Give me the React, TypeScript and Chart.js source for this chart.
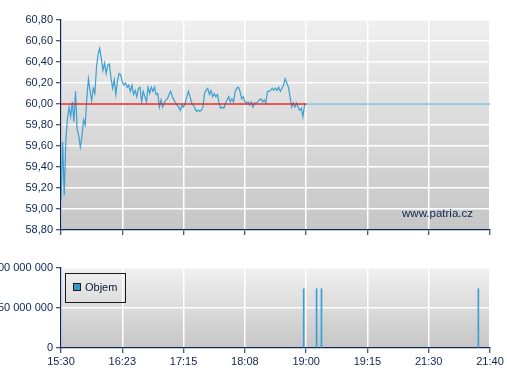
import React, { useEffect, useRef } from 'react';
import { Chart, registerables } from 'chart.js';

Chart.register(...registerables);

// ---- data ----
const xTickLabels = ['15:30', '16:23', '17:15', '18:08', '19:00', '19:15', '21:30', '21:40'];
const xTickSlots = [0, 1, 2, 3, 4, 5, 6, 7];
const priceTicks = [58.8, 59.0, 59.2, 59.4, 59.6, 59.8, 60.0, 60.2, 60.4, 60.6, 60.8];
const volumeTicks = [0, 50000000, 100000000];
const previousClose = 60.0;
const sessionEndSlot = 4.0; // end of continuous trading on the time axis (tick slots)
const afterHoursPrice = 60.0;
const afterHoursEndSlot = 7;

const priceValues = [
  59.08, 59.64, 59.13, 59.65, 59.86, 59.97, 59.88, 60.02, 59.83, 60.12, 59.76, 59.70, 59.59, 59.69, 59.85,
  59.80, 60.05, 60.24, 60.13, 60.03, 60.15, 60.10, 60.35, 60.47, 60.53, 60.43, 60.32, 60.39, 60.29, 60.37,
  60.38, 60.25, 60.15, 60.23, 60.09, 60.22, 60.29, 60.28, 60.21, 60.18, 60.20, 60.16, 60.18,
  60.12, 60.18, 60.09, 60.13, 60.07, 60.15, 60.16, 60.02, 60.12, 60.07, 60.02, 60.16, 60.10, 60.16, 60.12,
  60.16, 60.09, 60.10, 59.97, 60.04, 59.97, 60.01, 60.04, 60.05, 60.09, 60.12, 60.07, 60.04, 60.01, 59.99,
  59.97, 59.94, 59.99, 59.97, 60.01, 60.07, 60.12,
  60.07, 60.01, 59.99, 59.96, 59.93, 59.94, 59.93, 59.94, 59.97, 60.10, 60.13, 60.15, 60.09, 60.13, 60.07,
  60.10, 60.07, 60.09, 60.01, 59.96, 59.97, 59.96, 60.01, 60.04, 60.07, 60.02, 60.05, 60.02, 60.12, 60.15,
  60.16, 60.12, 60.05, 60.07, 60.02,
  60.01, 60.02, 59.99, 60.02, 59.97, 60.01, 60.01, 60.02, 60.04, 60.05, 60.02, 60.04, 60.01, 60.12, 60.12,
  60.13, 60.15, 60.13, 60.15, 60.13, 60.16, 60.12, 60.15, 60.18, 60.24, 60.20, 60.16, 60.07, 59.97, 60.01,
  59.97, 60.01, 59.97, 59.94, 59.96, 59.88, 59.99, 60.00,
];

const volumeSlots = [3.96, 4.17, 4.25, 6.81];
const volumeValues = [74000000, 74000000, 74000000, 74000000];

// ---- styles ----
const FONT = '"Liberation Sans", Arial, sans-serif';
const NAVY = '#0d2654';
const BLUE = '#3a9fd2';
const RED = '#e02424';

function fmtPrice(v: number) {
  return v.toFixed(2).replace('.', ',');
}
function fmtVolume(v: number) {
  return Math.round(v).toString().replace(/\B(?=(\d{3})+(?!\d))/g, ' ');
}

const gradientBg = (top: string, bottom: string) => ({
  id: 'gradientBg',
  beforeDraw(chart: any) {
    const { ctx, chartArea: a } = chart;
    if (!a) return;
    const g = ctx.createLinearGradient(0, a.top, 0, a.bottom);
    g.addColorStop(0, top);
    g.addColorStop(1, bottom);
    ctx.save();
    ctx.fillStyle = g;
    ctx.fillRect(a.left, a.top, a.right - a.left, a.bottom - a.top);
    ctx.restore();
  },
});

const watermark = {
  id: 'watermark',
  afterDatasetsDraw(chart: any) {
    const { ctx, chartArea: a } = chart;
    ctx.save();
    ctx.font = `11.5px ${FONT}`;
    ctx.fillStyle = NAVY;
    ctx.textAlign = 'right';
    ctx.textBaseline = 'middle';
    ctx.fillText('www.patria.cz', a.right - 17, a.bottom - 16.5);
    ctx.restore();
  },
};

const volumeLegend = {
  id: 'volumeLegend',
  afterDraw(chart: any) {
    const { ctx, chartArea: a } = chart;
    const x0 = Math.round(a.left) + 4.5;
    const y0 = Math.round(a.top) + 5.5;
    ctx.save();
    ctx.strokeStyle = '#1a1a1a';
    ctx.lineWidth = 1;
    ctx.strokeRect(x0, y0, 60, 29);
    ctx.fillStyle = '#3399cc';
    ctx.fillRect(x0 + 8, y0 + 10, 7, 7);
    ctx.strokeRect(x0 + 8, y0 + 10, 7, 7);
    ctx.font = `11px ${FONT}`;
    ctx.fillStyle = '#0d1a33';
    ctx.textAlign = 'left';
    ctx.textBaseline = 'middle';
    ctx.fillText('Objem', x0 + 19.5, y0 + 14.5);
    ctx.restore();
  },
};

export default function App() {
  const topRef = useRef<HTMLCanvasElement>(null);
  const botRef = useRef<HTMLCanvasElement>(null);

  useEffect(() => {
    const n = priceValues.length;
    const pricePoints = priceValues.map((v, i) => ({ x: (i * sessionEndSlot) / (n - 1), y: v }));
    pricePoints.push({ x: afterHoursEndSlot, y: afterHoursPrice });

    const xScaleBase = (showLabels: boolean, height: number) => ({
      type: 'linear' as const,
      min: 0,
      max: 7,
      offset: false,
      afterBuildTicks: (s: any) => {
        s.ticks = xTickSlots.map((v) => ({ value: v }));
      },
      afterFit: (s: any) => {
        s.height = height;
      },
      grid: {
        color: '#ffffff',
        lineWidth: 1.5,
        offset: false,
        drawTicks: true,
        tickLength: 5,
        tickColor: NAVY,
        tickWidth: 1,
      },
      border: { display: true, color: NAVY, width: 1.2 },
      ticks: {
        display: showLabels,
        autoSkip: false,
        maxRotation: 0,
        padding: 2,
        color: NAVY,
        font: { family: FONT, size: 11 },
        callback: (v: any) => xTickLabels[xTickSlots.indexOf(Number(v))] ?? '',
      },
    });

    const top = new Chart(topRef.current!, {
      type: 'line',
      data: {
        datasets: [
          {
            data: [
              { x: 0, y: previousClose },
              { x: sessionEndSlot, y: previousClose },
            ],
            borderColor: RED,
            borderWidth: 1.5,
            pointRadius: 0,
          },
          {
            data: pricePoints,
            borderColor: BLUE,
            borderWidth: 1.2,
            pointRadius: 0,
            tension: 0,
          },
        ],
      },
      options: {
        responsive: false,
        animation: false,
        events: [],
        layout: { padding: { top: 20, right: 17, left: 0, bottom: 0 } },
        plugins: { legend: { display: false }, tooltip: { enabled: false } },
        scales: {
          x: xScaleBase(false, 15) as any,
          y: {
            type: 'linear',
            min: 58.8,
            max: 60.8,
            afterBuildTicks: (s: any) => {
              s.ticks = priceTicks.map((v) => ({ value: v }));
            },
            afterFit: (s: any) => {
              s.width = 61;
            },
            grid: { color: '#ffffff', lineWidth: 1.5, tickLength: 5, tickColor: NAVY, tickWidth: 1 },
            border: { display: true, color: NAVY, width: 1.2 },
            ticks: {
              padding: 3,
              color: NAVY,
              font: { family: FONT, size: 11 },
              callback: (v: any) => fmtPrice(Number(v)),
            },
          },
        },
      },
      plugins: [gradientBg('#efefef', '#c6c6c6'), watermark],
    });

    const bot = new Chart(botRef.current!, {
      type: 'bar',
      data: {
        datasets: [
          {
            data: volumeSlots.map((s, i) => ({ x: s, y: volumeValues[i] })),
            backgroundColor: BLUE,
            barThickness: 1,
            borderWidth: 0,
          } as any,
        ],
      },
      options: {
        responsive: false,
        animation: false,
        events: [],
        layout: { padding: { top: 23, right: 17, left: 0, bottom: 0 } },
        plugins: { legend: { display: false }, tooltip: { enabled: false } },
        scales: {
          x: xScaleBase(true, 32) as any,
          y: {
            type: 'linear',
            min: 0,
            max: 100000000,
            afterBuildTicks: (s: any) => {
              s.ticks = volumeTicks.map((v) => ({ value: v }));
            },
            afterFit: (s: any) => {
              s.width = 61;
            },
            grid: { color: '#ffffff', lineWidth: 1.5, tickLength: 5, tickColor: NAVY, tickWidth: 1 },
            border: { display: true, color: NAVY, width: 1.2 },
            ticks: {
              padding: 3,
              color: NAVY,
              font: { family: FONT, size: 11 },
              callback: (v: any) => fmtVolume(Number(v)),
            },
          },
        },
      },
      plugins: [gradientBg('#f0f0f0', '#c6c6c6'), volumeLegend],
    });

    return () => {
      top.destroy();
      bot.destroy();
    };
  }, []);

  return (
    <div style={{ position: 'absolute', left: 0, top: 0, width: 507, height: 380, background: '#ffffff' }}>
      <canvas ref={topRef} width={507} height={245} style={{ display: 'block', width: 507, height: 245 }} />
      <canvas ref={botRef} width={507} height={135} style={{ display: 'block', width: 507, height: 135 }} />
    </div>
  );
}
